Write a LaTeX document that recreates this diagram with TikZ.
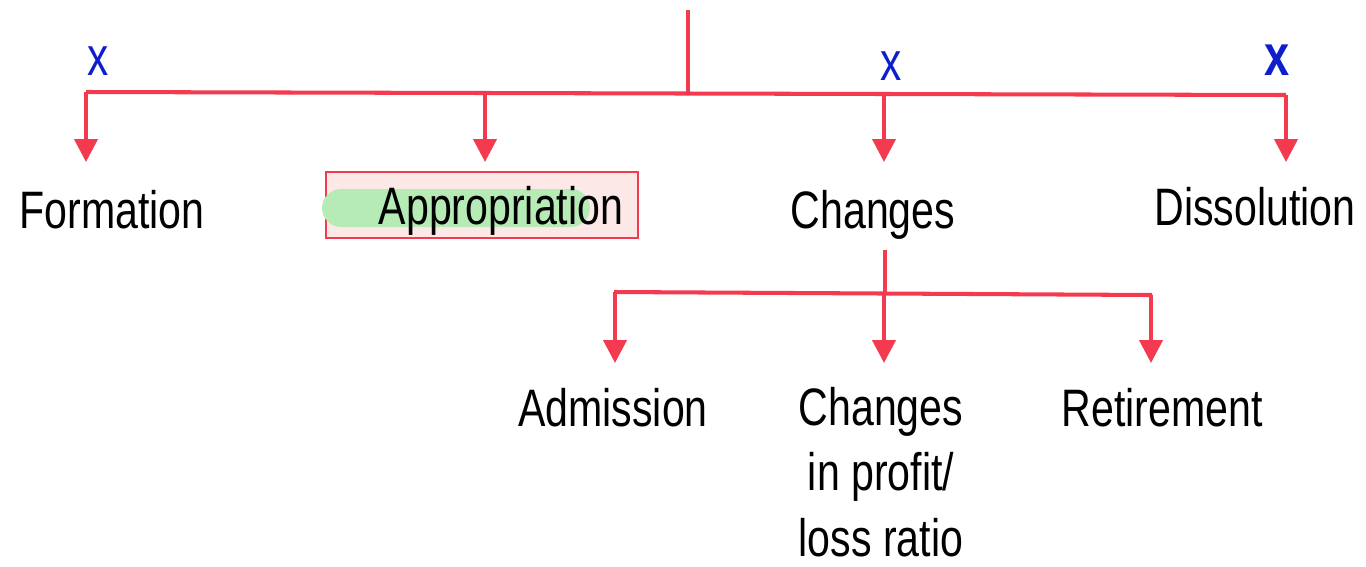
\documentclass[tikz,border=0pt]{standalone}
\usepackage{fontspec}
\usepackage{tikz}
\usetikzlibrary{arrows.meta, positioning, calc}
\newfontfamily\handfont[FakeStretch=0.78]{Liberation Sans}
\definecolor{TreeRed}{RGB}{243,58,78}
\definecolor{MarkBlue}{RGB}{14,30,205}
\definecolor{HiGreen}{RGB}{182,235,182}
\definecolor{BoxPink}{RGB}{253,232,232}

\begin{document}
\begin{tikzpicture}[x=0.02cm, y=-0.02cm,
          item/.style={font=\handfont\fontsize{30}{37.4}\selectfont,
                       inner sep=0pt, align=center},
          cross/.style={font=\handfont\fontsize{31}{33}\selectfont,
                        MarkBlue, inner sep=0pt},
          link/.style={TreeRed, line width=2.3pt},
          arr/.style={link, -{Triangle[width=0.46cm, length=0.46cm]}}
        ]
        \useasboundingbox (0,0) rectangle (1366,566);

        % Root stem and main bar
        \coordinate (root) at (688,10);
        \coordinate (hub) at (688,93);
        \coordinate (barL) at (86,92);
        \coordinate (barR) at (1286,95);
        \draw[link] (root) -- (hub);
        \draw[link] (barL) -- (barR);

        % Drops to the first level
        \foreach \i/\x/\y in {1/86/92, 2/485/93, 3/884/94, 4/1286/95} {
          \coordinate (drop\i) at (\x,\y);
          \coordinate (tip\i) at (\x,162);
          \draw[arr] (drop\i) -- (tip\i);
        }

        % Highlighted box
        \node[draw=TreeRed, line width=1.3pt, fill=BoxPink,
              minimum width=6.24cm, minimum height=1.32cm] (appbox) at (482,205) {};
        \node[fill=HiGreen, rounded corners=0.38cm, inner sep=0pt,
              minimum width=5.36cm, minimum height=0.76cm] (apphl) at (456,208) {};

        % First level labels
        \node[item, anchor=base] (formation) at (112,228) {Formation};
        \node[item, anchor=base] (approp) at (501,224) {Appropriation};
        \node[item, anchor=base] (changes) at (873,228) {Changes};
        \node[item, anchor=base] (dissolution) at (1255,225) {Dissolution};

        % Blue marks
        \node[cross] (cross1) at (98,61) {x};
        \node[cross] (cross2) at (891,66) {x};
        \node[cross, font=\handfont\bfseries\fontsize{33}{35}\selectfont] (cross3) at (1277,60) {x};

        % Second level under Changes
        \coordinate (subtop) at (885,250);
        \coordinate (subhub) at (885,293);
        \coordinate (subL) at (614,292);
        \coordinate (subR) at (1152,295);
        \draw[link] (subtop) -- (subhub);
        \draw[link] (subL) -- (subR);
        \foreach \i/\x/\y in {5/615/292, 6/884/293, 7/1151/295} {
          \coordinate (drop\i) at (\x,\y);
          \coordinate (tip\i) at (\x,363);
          \draw[arr] (drop\i) -- (tip\i);
        }

        \node[item, anchor=base] (admission) at (613,426) {Admission};
        \node[item] (ratio) at (881,472) {Changes\\in profit/\\loss ratio};
        \node[item, anchor=base] (retirement) at (1162,426) {Retirement};
      \end{tikzpicture}
\end{document}
